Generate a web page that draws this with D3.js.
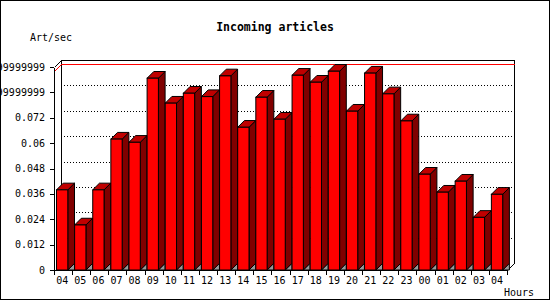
<!DOCTYPE html>
<html>
<head>
<meta charset="utf-8">
<script src="https://cdn.jsdelivr.net/npm/d3@7"></script>
<style>
  body { margin: 0; background: #fff; }
  svg { display: block; }
  text { font-family: 'DejaVu Sans Mono', monospace; font-size: 10px; fill: #000; }
</style>
</head>
<body>
<svg id="chart" width="550" height="300"></svg>
<script>
// hours of the day (x categories)
const hours = ['04', '05', '06', '07', '08', '09', '10', '11', '12', '13', '14', '15', '16',
  '17', '18', '19', '20', '21', '22', '23', '00', '01', '02', '03', '04']
// incoming articles per second
const artPerSec = [0.0379, 0.0213, 0.0379, 0.0619, 0.0604, 0.0907, 0.0789, 0.0836, 0.0820,
  0.0918, 0.0675, 0.0817, 0.0713, 0.0921, 0.0888, 0.0940, 0.0751, 0.0931, 0.0833, 0.0705,
  0.0453, 0.0368, 0.0420, 0.0249, 0.0358]
// y tick values and their labels (as printed on the original)
const yTicks = [0, 0.012, 0.024, 0.036, 0.048, 0.06, 0.072, 0.084, 0.096]
const yTickLabels = ['0', '0.012', '0.024', '0.036', '0.048', '0.06', '0.072',
  '0.08399999999', '0.09599999999']

const width = 550
const height = 300
const margin = { top: 67, right: 36, bottom: 30, left: 54 }
const depth = 7 // 3d offset of the back plane
const barDepth = 6.7

const svg = d3.select('#chart')

// background + frame
svg.append('rect')
  .attr('x', 0.5).attr('y', 0.5)
  .attr('width', width - 1).attr('height', height - 1)
  .attr('fill', '#fff').attr('stroke', '#000')

const x0 = margin.left
const x1 = width - margin.right - depth // front right edge
const yBottom = height - margin.bottom

const xScale = d3.scaleBand()
  .domain(d3.range(hours.length))
  .range([x0, x1])
  .padding(0)

const yScale = d3.scaleLinear()
  .domain([0, 0.096])
  .range([yBottom, margin.top])

const g = svg.append('g').attr('shape-rendering', 'crispEdges')

const px = (v) => Math.round(v) + 0.5

// back plane frame
const backTop = px(yScale(0.096) - depth)
const backBottom = px(yBottom - depth)
g.append('path')
  .attr('d', `M${px(x0)},${px(yScale(0.096))}L${px(x0 + depth)},${backTop}H${px(x1 + depth)}V${backBottom}L${px(x1)},${px(yBottom)}`)
  .attr('fill', 'none').attr('stroke', '#000')
g.append('line')
  .attr('x1', px(x0 + depth)).attr('x2', px(x0 + depth))
  .attr('y1', backTop).attr('y2', backBottom)
  .attr('stroke', '#000')

// grid lines (front diagonal + back horizontal), dotted
const grid = g.append('g').attr('id', 'grid')
yTicks.slice(1).forEach((t) => {
  const y = yScale(t)
  grid.append('path')
    .attr('d', `M${px(x0)},${px(y)}L${px(x0 + depth)},${px(y - depth)}H${px(x1 + depth)}`)
    .attr('fill', 'none')
    .attr('stroke', '#000')
    .attr('stroke-dasharray', '1,2')
})

// max value line in red
const maxV = d3.max(artPerSec)
const yMax = yScale(maxV)
g.append('path')
  .attr('d', `M${px(x0)},${px(yMax)}L${px(x0 + depth)},${px(yMax - depth)}H${px(x1 + depth)}`)
  .attr('fill', 'none').attr('stroke', '#ff0000')

// y axis
g.append('line')
  .attr('x1', px(x0)).attr('x2', px(x0))
  .attr('y1', px(yScale(0.096))).attr('y2', px(yBottom))
  .attr('stroke', '#000')
yTicks.forEach((t, i) => {
  const y = yScale(t)
  g.append('line')
    .attr('x1', x0 - 4).attr('x2', i === 0 ? x0 + 2 : x0)
    .attr('y1', px(y)).attr('y2', px(y))
    .attr('stroke', '#000')
  svg.append('text')
    .attr('x', x0 - 9)
    .attr('y', y)
    .attr('dy', '0.35em')
    .attr('text-anchor', 'end')
    .text(yTickLabels[i])
})

// bars
const frontW = 11.3
const bars = svg.append('g').attr('id', 'bars').attr('stroke', '#000').attr('stroke-linejoin', 'miter')
artPerSec.forEach((v, i) => {
  const bx = xScale(i) + 2.5
  const yt = yScale(v)
  const xr = bx + frontW
  const b = bars.append('g')
  // floor shadow
  b.append('path')
    .attr('d', `M${xr},${yBottom}L${xr + barDepth},${yBottom - barDepth}V${yBottom}Z`)
    .attr('fill', '#999999')
  // side
  b.append('path')
    .attr('d', `M${xr},${yt}L${xr + barDepth},${yt - barDepth}V${yBottom - barDepth}L${xr},${yBottom}Z`)
    .attr('fill', '#800000')
  // top
  b.append('path')
    .attr('d', `M${bx},${yt}L${bx + barDepth},${yt - barDepth}H${xr + barDepth}L${xr},${yt}Z`)
    .attr('fill', '#c00000')
  // front
  b.append('rect')
    .attr('x', bx).attr('y', yt)
    .attr('width', frontW).attr('height', yBottom - yt)
    .attr('fill', '#ff0000')
})

// x axis
g.append('line')
  .attr('x1', px(x0)).attr('x2', px(x1))
  .attr('y1', px(yBottom)).attr('y2', px(yBottom))
  .attr('stroke', '#000')
d3.range(hours.length + 1).forEach((i) => {
  const tx = i < hours.length ? xScale(i) : x1
  g.append('line')
    .attr('x1', px(tx)).attr('x2', px(tx))
    .attr('y1', yBottom).attr('y2', yBottom + 5)
    .attr('stroke', '#000')
})
svg.append('g')
  .selectAll('text')
  .data(hours)
  .join('text')
  .attr('x', (d, i) => xScale(i) + 2.5 + frontW / 2)
  .attr('y', yBottom + 10)
  .attr('dy', '0.35em')
  .attr('text-anchor', 'middle')
  .text((d) => d)

// titles
svg.append('text')
  .attr('x', 275).attr('y', 27)
  .attr('dy', '0.35em')
  .attr('text-anchor', 'middle')
  .style('font-weight', 'bold')
  .style('font-size', '11.5px')
  .text('Incoming articles')

svg.append('text')
  .attr('x', 30).attr('y', 37)
  .attr('dy', '0.35em')
  .text('Art/sec')

svg.append('text')
  .attr('x', 534).attr('y', 292)
  .attr('dy', '0.35em')
  .attr('text-anchor', 'end')
  .text('Hours')
</script>
</body>
</html>
